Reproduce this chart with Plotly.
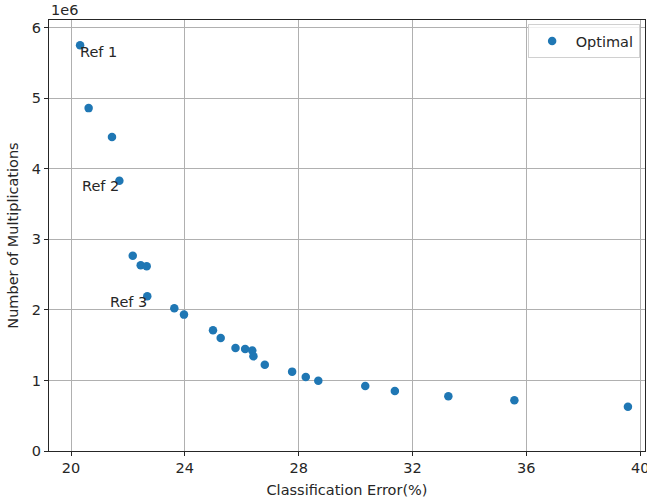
import plotly.graph_objects as go

# Classification error (%) and number of multiplications
error_pct = [20.32, 20.62, 21.44, 21.70, 22.17, 22.45, 22.66, 22.68, 23.63, 23.97,
             24.99, 25.26, 25.78, 26.12, 26.37, 26.41, 26.81, 27.77, 28.25, 28.69,
             30.34, 31.38, 33.26, 35.58, 39.57]
mults = [5.75e6, 4.86e6, 4.45e6, 3.83e6, 2.766e6, 2.633e6, 2.619e6, 2.193e6, 2.023e6, 1.933e6,
         1.711e6, 1.603e6, 1.461e6, 1.447e6, 1.423e6, 1.342e6, 1.224e6, 1.125e6, 1.050e6, 0.997e6,
         0.922e6, 0.851e6, 0.775e6, 0.718e6, 0.628e6]

ref_labels = ["Ref 1", "Ref 2", "Ref 3"]
ref_x = [20.33, 20.37, 21.37]
ref_y = [5.66e6, 3.75e6, 2.11e6]

x_ticks = [20, 24, 28, 32, 36, 40]
y_ticks = [0, 1, 2, 3, 4, 5, 6]
scale = 1e6

font = dict(family="DejaVu Sans", size=14.5, color="#262626")

fig = go.Figure()
fig.add_trace(go.Scatter(
    x=error_pct, y=[v / scale for v in mults], mode="markers", name="Optimal",
    marker=dict(color="#1f77b4", size=8.5, line=dict(width=0)),
))

for lab, xv, yv in zip(ref_labels, ref_x, ref_y):
    fig.add_annotation(x=xv, y=yv / scale, text=lab, showarrow=False,
                       xanchor="left", yanchor="middle", xshift=-2, font=font)

fig.add_annotation(x=0, y=1, xref="paper", yref="paper", text="1e6", showarrow=False,
                   xanchor="left", yanchor="bottom", yshift=0, font=font)

axis_common = dict(showline=True, linecolor="#262626", linewidth=1, mirror=True,
                   showgrid=True, gridcolor="#b0b0b0", gridwidth=0.8,
                   ticks="outside", ticklen=4, tickcolor="#262626", tickfont=font,
                   zeroline=False, automargin=False, ticklabeloverflow="allow")

fig.update_xaxes(range=[19.227, 40.17], tickvals=x_ticks, ticktext=[str(t) for t in x_ticks],
                 title=dict(text="Classification Error(%)", font=font, standoff=9), **axis_common)
fig.update_yaxes(range=[0, 6.109], tickvals=y_ticks, ticktext=[str(t) for t in y_ticks],
                 title=dict(text="Number of Multiplications", font=font, standoff=9), **axis_common)

fig.update_layout(
    width=647, height=500,
    margin=dict(l=49, r=2, t=20, b=49, autoexpand=False),
    plot_bgcolor="white", paper_bgcolor="white",
    font=font,
    showlegend=True,
    legend=dict(x=0.991, y=0.951, xanchor="right", yanchor="middle",
                bgcolor="rgba(255,255,255,0.8)", bordercolor="#d0d0d0", borderwidth=1,
                font=font, itemwidth=37),
)

fig.write_html("out.html", config={"displayModeBar": False},
               post_script="document.body.style.margin='0';document.body.style.overflow='hidden';")
